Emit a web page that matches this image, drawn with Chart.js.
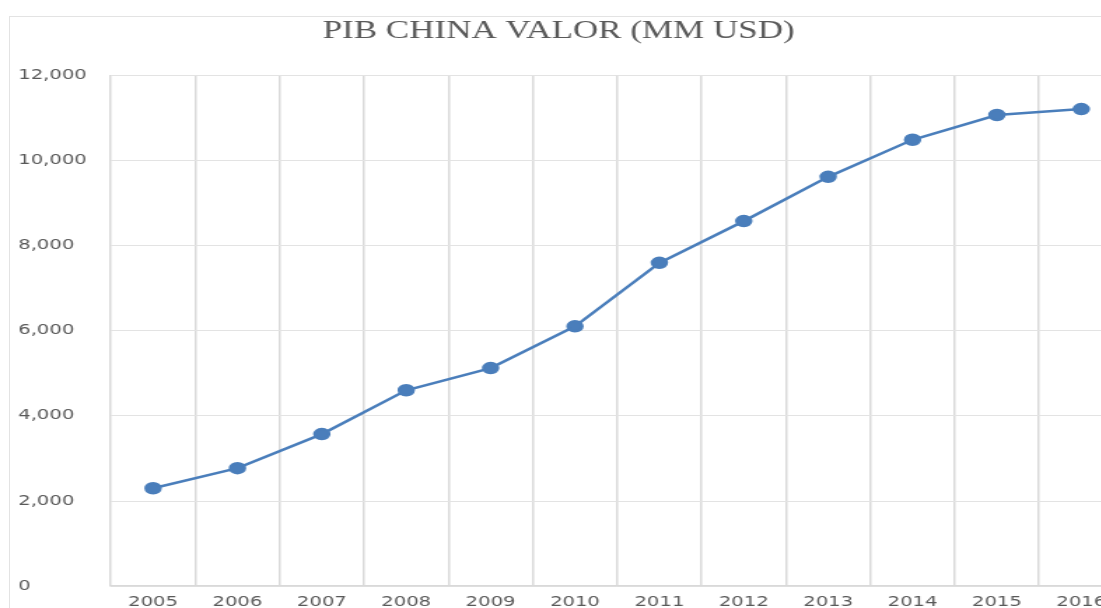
<!DOCTYPE html>
<html>
<head>
<meta charset="utf-8">
<script src="https://cdn.jsdelivr.net/npm/chart.js@4/dist/chart.umd.min.js"></script>
<style>
    body { margin: 0; background: #fff; overflow: hidden; width: 1101px; height: 608px; position: relative; }
    #frame { position: absolute; left: 9px; top: 16px; width: 1200px; height: 700px; border: 1px solid #e3e3e3; }
    #pibChart { position: absolute; left: 0; top: 0; }
</style>
</head>
<body>
<div id="frame"></div>
<canvas id="pibChart" width="810" height="625" style="width: 1134px; height: 625px;"></canvas>
<script>
// Datos
var anios = ['2005', '2006', '2007', '2008', '2009', '2010', '2011', '2012', '2013', '2014', '2015', '2016'];
var valores = [2300, 2770, 3570, 4600, 5120, 6100, 7590, 8570, 9610, 10480, 11060, 11200];
var ticksY = [0, 2000, 4000, 6000, 8000, 10000, 12000];

var gris = '#595959';

// Mover un poco el titulo a la izquierda
var moverTitulo = {
    id: 'moverTitulo',
    afterLayout: function (chart)
    {
        if (chart.titleBlock)
        {
            chart.titleBlock.right -= 19;
        }
    }
};

// Grafico
var ctx = document.getElementById('pibChart').getContext('2d');
var myChart = new Chart(ctx,
{
    type: 'line',
    data:
    {
        labels: anios,
        datasets: [
        {
            label: 'PIB',
            data: valores,
            borderColor: '#4a7ebb',
            backgroundColor: '#4a7ebb',
            borderWidth: 2.5,
            pointRadius: 5,
            pointHoverRadius: 5,
            tension: 0
        }]
    },
    options:
    {
        responsive: false,
        animation: false,
        devicePixelRatio: 1,
        layout:
        {
            padding: { left: 13, right: 6, top: 14, bottom: 6 }
        },
        plugins:
        {
            legend: { display: false },
            tooltip: { enabled: false },
            title:
            {
                display: true,
                text: 'PIB CHINA VALOR (MM USD)',
                color: gris,
                font: { family: 'Liberation Serif', size: 25, weight: 'normal' },
                padding: { top: 2, bottom: 29 }
            }
        },
        scales:
        {
            x:
            {
                offset: true,
                grid:
                {
                    offset: true,
                    color: '#d9d9d9',
                    lineWidth: 1.5,
                    drawTicks: false
                },
                border: { color: '#d9d9d9', width: 1.5 },
                ticks:
                {
                    color: gris,
                    padding: 8,
                    maxRotation: 0,
                    autoSkip: false,
                    font: { family: 'DejaVu Sans', size: 14 }
                }
            },
            y:
            {
                min: 0,
                max: 12000,
                afterBuildTicks: function (axis)
                {
                    axis.ticks = ticksY.map(function (v) { return { value: v }; });
                },
                grid:
                {
                    color: '#e3e3e3',
                    lineWidth: 1,
                    drawTicks: false
                },
                border: { display: false },
                ticks:
                {
                    color: gris,
                    padding: 8.6,
                    crossAlign: 'far',
                    font: { family: 'DejaVu Sans', size: 14 },
                    callback: function (v)
                    {
                        return v.toLocaleString('en-US');
                    }
                }
            }
        }
    },
    plugins: [moverTitulo]
});
</script>
</body>
</html>
